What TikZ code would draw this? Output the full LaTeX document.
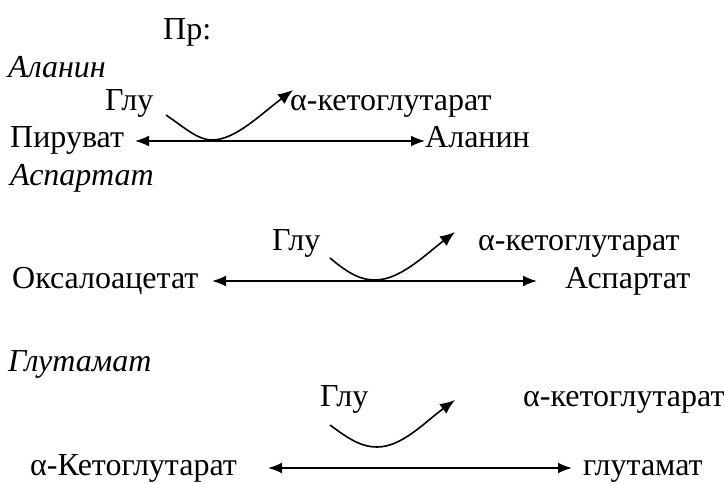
\documentclass[tikz,border=0pt]{standalone}
\usepackage{fontspec}
\setmainfont{Liberation Serif}
\newfontfamily\tnr{Liberation Serif}
\usetikzlibrary{arrows.meta}
\begin{document}
\begin{tikzpicture}[x=1pt,y=-1pt,
  lbl/.style={anchor=base west,inner sep=0pt,font=\tnr\fontsize{32}{38}\selectfont},
  ital/.style={lbl,font=\tnr\fontsize{32}{38}\selectfont\itshape},
  rxn/.style={line width=1.8pt,{Latex[length=14pt,width=11pt]}-{Latex[length=14pt,width=11pt]}},
  curvearrow/.style={line width=1.6pt,-{Latex[length=15pt,width=12pt]}}]
\useasboundingbox (0,0) rectangle (724,484);
% header
\node[lbl] (pr) at (163,40) {Пр:};
% Alanine
\node[ital] (h1) at (8,78) {Аланин};
\node[lbl] (g1) at (105,111) {Глу};
\node[lbl] (k1) at (290,111) {α-кетоглутарат};
\node[lbl] (s1) at (10,148) {Пируват};
\node[lbl] (p1) at (425,148) {Аланин};
\coordinate (a1l) at (135,141);
\coordinate (a1r) at (425,141);
\draw[rxn] (a1l) -- (a1r);
\coordinate (c1s) at (166,115);
\coordinate (c1m) at (212,140);
\coordinate (c1e) at (293,90);
\draw[curvearrow] (c1s) .. controls (185,128) and (198,140) .. (c1m) .. controls (235,140) and (260,115) .. (c1e);
% Aspartate
\node[ital] (h2) at (10,186) {Аспартат};
\node[lbl] (g2) at (272,251) {Глу};
\node[lbl] (k2) at (478,251) {α-кетоглутарат};
\node[lbl] (s2) at (12,289) {Оксалоацетат};
\node[lbl] (p2) at (565,289) {Аспартат};
\coordinate (a2l) at (212,281);
\coordinate (a2r) at (537,281);
\draw[rxn] (a2l) -- (a2r);
\coordinate (c2s) at (330,258);
\coordinate (c2m) at (375,280);
\coordinate (c2e) at (455,232);
\draw[curvearrow] (c2s) .. controls (350,275) and (362,280) .. (c2m) .. controls (400,280) and (425,255) .. (c2e);
% Glutamate
\node[ital] (h3) at (8,371) {Глутамат};
\node[lbl] (g3) at (320,406) {Глу};
\node[lbl] (k3) at (523,406) {α-кетоглутарат};
\node[lbl] (s3) at (30,475) {α-Кетоглутарат};
\node[lbl] (p3) at (583,475) {глутамат};
\coordinate (a3l) at (268,468);
\coordinate (a3r) at (572,468);
\draw[rxn] (a3l) -- (a3r);
\coordinate (c3s) at (330,425);
\coordinate (c3m) at (377,447);
\coordinate (c3e) at (455,400);
\draw[curvearrow] (c3s) .. controls (350,440) and (362,447) .. (c3m) .. controls (402,447) and (425,422) .. (c3e);
\end{tikzpicture}
\end{document}
